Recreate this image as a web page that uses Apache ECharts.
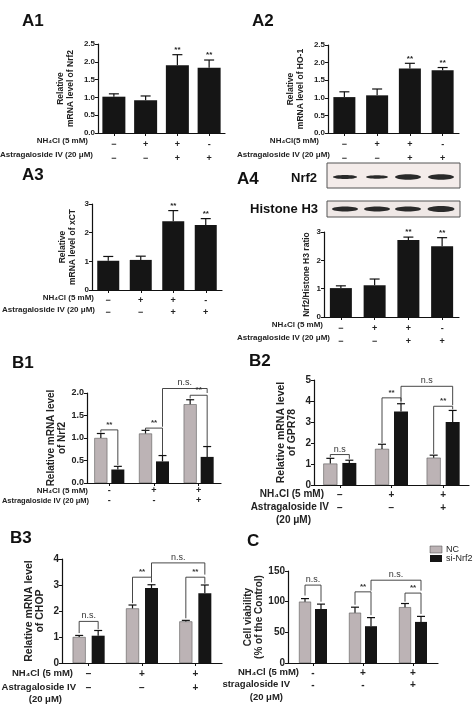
<!DOCTYPE html>
<html><head><meta charset="utf-8">
<script src="https://cdn.jsdelivr.net/npm/echarts@6/dist/echarts.min.js"></script>
<style>html,body{margin:0;background:#fff}#c{width:474px;height:705px}</style>
</head><body><div id="c"></div>
<script>
// ---- data ----
const a1Vals=[1.02,0.92,1.9,1.83], a1Err=[0.08,0.12,0.3,0.22], a1Star=['','','**','**'];
const a2Vals=[1.02,1.07,1.83,1.78], a2Err=[0.15,0.18,0.15,0.08], a2Star=['','','**','**'];
const a3Vals=[1.02,1.05,2.4,2.27], a3Err=[0.15,0.13,0.37,0.22], a3Star=['','','**','**'];
const a4Vals=[1.02,1.12,2.72,2.5], a4Err=[0.08,0.22,0.1,0.3], a4Star=['','','**','**'];
const aNh=['−','+','+','-'], aAs=['−','−','+','+'];
const b1Nc=[1.0,1.1,1.75], b1NcErr=[0.1,0.07,0.1], b1Si=[0.3,0.48,0.58], b1SiErr=[0.07,0.13,0.23];
const b2Nc=[1.02,1.72,1.3], b2NcErr=[0.25,0.22,0.12], b2Si=[1.05,3.5,3.0], b2SiErr=[0.13,0.37,0.55];
const b3Nc=[1.0,2.1,1.6], b3NcErr=[0.06,0.13,0.04], b3Si=[1.05,2.88,2.68], b3SiErr=[0.2,0.13,0.32];
const cNc=[100,82,91], cNcErr=[5,9,6], cSi=[88,60,67], cSiErr=[8,14,9];
const bNh=['-','+','+'], bAs=['-','-','+'];
const bNh2=['−','+','+'], bAs2=['−','−','+'];
// brackets: [cat1, side1, cat2, side2, top, leftLegEnd, rightLegEnd, label]
const b1Br=[[0,-1,0,1,1.18,1.12,0.4,'**'],[1,-1,1,1,1.22,1.17,0.62,'**'],[2,-1,2,1,1.95,1.88,0.82,'**'],[1,1,2,1,2.1,1.25,2.0,'n.s.']];
const b2Br=[[0,-1,0,1,1.45,1.32,1.25,'n.s'],[1,-1,1,1,4.15,2.0,3.92,'**'],[2,-1,2,1,3.75,1.48,3.6,'**'],[1,1,2,1,4.7,4.0,3.8,'n.s']];
const b3Br=[[0,-1,0,1,1.6,1.15,1.3,'n.s.'],[1,-1,1,1,3.3,2.3,3.1,'**'],[2,-1,2,1,3.3,1.72,3.05,'**'],[1,1,2,1,3.85,3.3,3.4,'n.s.']];
const cBr=[[0,-1,0,1,127,110,100,'n.s.'],[1,-1,1,1,116,95,78,'**'],[2,-1,2,1,114,100,80,'**'],[1,1,2,1,135,118,118,'n.s.']];

const GRAY='#bcb3b5', BLK='#151515', F='Liberation Sans, Arial, sans-serif';
const grids=[], xAxes=[], yAxes=[], series=[], graphics=[];

function errSeries(gi,vals,errs,stars,off,cap){
  series.push({type:'custom',xAxisIndex:gi,yAxisIndex:gi,z:5,
    data:vals.map((v,i)=>[i,v,errs[i],stars?stars[i]:'']),
    renderItem:(p,api)=>{
      const b=api.coord([api.value(0),api.value(1)]), t=api.coord([api.value(0),api.value(1)+api.value(2)]);
      const x=b[0]+off, st=api.value(3);
      const ch=[{type:'line',shape:{x1:x,y1:b[1],x2:x,y2:t[1]},style:{stroke:'#111',lineWidth:1.2}},
        {type:'line',shape:{x1:x-cap,y1:t[1],x2:x+cap,y2:t[1]},style:{stroke:'#111',lineWidth:1.2}}];
      if(st) ch.push({type:'text',style:{text:st,x:x,y:t[1]-1,align:'center',verticalAlign:'bottom',font:'bold 8px '+F,fill:'#222'}});
      return {type:'group',children:ch};
    }});
}
function brSeries(gi,br,half){
  series.push({type:'custom',xAxisIndex:gi,yAxisIndex:gi,z:6,data:br.map(b=>b.slice(0,7)),
    renderItem:(p,api)=>{
      const i=p.dataIndex, lab=br[i][7];
      const l=api.coord([api.value(0),api.value(4)]), r=api.coord([api.value(2),api.value(4)]);
      const xl=l[0]+api.value(1)*half, xr=r[0]+api.value(3)*half;
      const yl=api.coord([0,api.value(5)])[1], yr=api.coord([0,api.value(6)])[1];
      return {type:'group',children:[
        {type:'polyline',shape:{points:[[xl,yl],[xl,l[1]],[xr,l[1]],[xr,yr]]},style:{stroke:'#333',lineWidth:0.9,fill:null}},
        {type:'text',style:{text:lab,x:(xl+xr)/2,y:l[1]-1,align:'center',verticalAlign:'bottom',font:(lab==='**'?'bold 8px ':'9px ')+F,fill:'#333'}}]};
    }});
}
function panel(o){
  const gi=grids.length;
  grids.push({left:o.g[0],top:o.g[1],width:o.g[2],height:o.g[3]});
  xAxes.push({type:'category',gridIndex:gi,data:o.nh.map((_,i)=>i),
    axisLine:{lineStyle:{color:'#111',width:1.2}},axisTick:{show:true,alignWithLabel:true,length:3,lineStyle:{color:'#111'}},
    axisLabel:{margin:o.lm||5,interval:0,lineHeight:o.lh,fontSize:o.lf||9,fontWeight:'bold',fontFamily:F,color:'#222',
      formatter:(v,i)=>o.nh[i]+'\n'+o.as[i]}});
  yAxes.push({type:'value',gridIndex:gi,min:0,max:o.max,interval:o.iv,splitLine:{show:false},
    axisLine:{show:true,lineStyle:{color:'#111',width:1.2}},axisTick:{show:true,length:3,lineStyle:{color:'#111'}},
    axisLabel:{fontSize:o.yf||8,fontWeight:'bold',fontFamily:F,color:'#222',margin:3,
      formatter:v=>o.dec?v.toFixed(o.dec):String(v)},
    name:o.name,nameLocation:'middle',nameGap:o.ng,nameTextStyle:{fontSize:o.nf||8.5,fontFamily:F,fontWeight:'bold',color:'#222',lineHeight:o.nf?o.nf+1:10}});
  if(o.vals){
    series.push({type:'bar',xAxisIndex:gi,yAxisIndex:gi,data:o.vals,barWidth:o.bw,itemStyle:{color:BLK}});
    errSeries(gi,o.vals,o.err,o.star,0,5);
  } else {
    const half=o.bw/2+o.gap/2;
    series.push({type:'bar',xAxisIndex:gi,yAxisIndex:gi,data:o.nc,barWidth:o.bw,barGap:(o.gap/o.bw*100)+'%',itemStyle:{color:GRAY,borderColor:'#444',borderWidth:0.5}});
    series.push({type:'bar',xAxisIndex:gi,yAxisIndex:gi,data:o.si,barWidth:o.bw,itemStyle:{color:BLK}});
    errSeries(gi,o.nc,o.ncErr,null,-half,4);
    errSeries(gi,o.si,o.siErr,null,half,4);
    brSeries(gi,o.br,half);
  }
  o.rows.forEach(r=>graphics.push({type:'text',x:r[0],y:r[1],style:{text:r[2],align:'right',verticalAlign:'middle',font:'bold '+(r[3]||8)+'px '+F,fill:'#222'}}));
}
function lbl(t,x,y,s){graphics.push({type:'text',x:x,y:y,style:{text:t,font:'bold '+(s||17)+'px '+F,fill:'#111'}});}

panel({g:[98,44,127,89],nh:aNh,as:aAs,vals:a1Vals,err:a1Err,star:a1Star,bw:23,max:2.5,iv:0.5,dec:1,lh:14,
  name:'Relative\nmRNA level of Nrf2',ng:22,rows:[[88,141,'NH₄Cl (5 mM)'],[93,155,'Astragaloside IV (20 μM)']]});
panel({g:[328,45,131,88],nh:aNh,as:aAs,vals:a2Vals,err:a2Err,star:a2Star,bw:22,max:2.5,iv:0.5,dec:1,lh:14,
  name:'Relative\nmRNA level of HO-1',ng:22,rows:[[319,141,'NH₄Cl(5 mM)'],[330,155,'Astragaloside IV (20 μM)']]});
panel({g:[92,204,130,86],nh:aNh,as:aAs,vals:a3Vals,err:a3Err,star:a3Star,bw:22,max:3,iv:1,lh:12,
  name:'Relative\nmRNA level of xCT',ng:14,rows:[[94,298,'NH₄Cl (5 mM)'],[95,310,'Astragaloside IV (20 μM)']]});
panel({g:[324,232,135,85],nh:aNh,as:aAs,vals:a4Vals,err:a4Err,star:a4Star,bw:22,max:3,iv:1,lh:13,
  name:'Nrf2/Histone H3 ratio',ng:12,rows:[[323,325,'NH₄Cl (5 mM)'],[330,338,'Astragaloside IV (20 μM)']]});
panel({g:[87,393,134,90],nh:bNh,as:bAs,nc:b1Nc,ncErr:b1NcErr,si:b1Si,siErr:b1SiErr,br:b1Br,bw:13,gap:4,max:2,iv:0.5,dec:1,lh:10,lm:3,yf:9,
  name:'Relative mRNA level\nof Nrf2',ng:19,nf:10,rows:[[88,491,'NH₄Cl (5 mM)',8],[89,501,'Astragaloside IV (20 μM)',7.5]]});
panel({g:[314,380,155,105],nh:bNh2,as:bAs2,nc:b2Nc,ncErr:b2NcErr,si:b2Si,siErr:b2SiErr,br:b2Br,bw:14,gap:5,max:5,iv:1,lh:13,lm:4,lf:10,yf:10,
  name:'Relative mRNA level\nof GPR78',ng:16,nf:10.5,rows:[[324,494,'NH₄Cl (5 mM)',10],[329,507,'Astragaloside IV',10],[311,520,'(20 μM)',10]]});
panel({g:[62,559,160,104],nh:bNh2,as:bAs2,nc:b3Nc,ncErr:b3NcErr,si:b3Si,siErr:b3SiErr,br:b3Br,bw:13,gap:6,max:4,iv:1,lh:14,lm:4,lf:10,yf:10,
  name:'Relative mRNA level\nof CHOP',ng:16,nf:10.5,rows:[[73,673,'NH₄Cl (5 mM)',9.5],[76,687,'Astragaloside IV',9.5],[62,699,'(20 μM)',9.5]]});
panel({g:[288,571,150,92],nh:bNh,as:bAs,nc:cNc,ncErr:cNcErr,si:cSi,siErr:cSiErr,br:cBr,bw:12,gap:4,max:150,iv:50,lh:12,lm:4,lf:10,yf:10,
  name:'Cell viability\n(% of the Control)',ng:21,nf:10,rows:[[299,672,'NH₄Cl (5 mM)',9.5],[290,684,'stragaloside IV',9.5],[283,697,'(20 μM)',9.5]]});

lbl('A1',22,13);lbl('A2',252,13);lbl('A3',22,167);lbl('A4',237,171);
lbl('B1',12,355);lbl('B2',249,353);lbl('B3',10,530);lbl('C',247,533);
// legend
graphics.push({type:'rect',shape:{x:430,y:546,width:12,height:7},style:{fill:GRAY,stroke:'#444',lineWidth:0.5}});
graphics.push({type:'rect',shape:{x:430,y:555,width:12,height:7},style:{fill:BLK}});
graphics.push({type:'text',x:446,y:550,style:{text:'NC',font:'9px '+F,fill:'#222',verticalAlign:'middle'}});
graphics.push({type:'text',x:446,y:559,style:{text:'si-Nrf2',font:'9px '+F,fill:'#222',verticalAlign:'middle'}});
// western blot decoration
const lanes=[345,377,408,441], nrfBand=[[24,4],[22,3.5],[26,5.5],[26,5.5]], h3Band=[[26,5],[26,5],[26,5],[27,6]];
graphics.push({type:'text',x:304,y:178,style:{text:'Nrf2',font:'bold 13px '+F,fill:'#111',align:'center',verticalAlign:'middle'}});
graphics.push({type:'text',x:318,y:209,style:{text:'Histone H3',font:'bold 13px '+F,fill:'#111',align:'right',verticalAlign:'middle'}});
graphics.push({type:'rect',shape:{x:327,y:163,width:133,height:25},style:{fill:'#f4ecea',stroke:'#555',lineWidth:1}});
graphics.push({type:'rect',shape:{x:327,y:201,width:133,height:16},style:{fill:'#efe8e6',stroke:'#555',lineWidth:1}});
lanes.forEach((x,i)=>{
  graphics.push({type:'ellipse',shape:{cx:x,cy:177,rx:nrfBand[i][0]/2,ry:nrfBand[i][1]/2},style:{fill:'#2a2a2a'}});
  graphics.push({type:'ellipse',shape:{cx:x,cy:209,rx:h3Band[i][0]/2,ry:h3Band[i][1]/2},style:{fill:'#2a2a2a'}});
});

const chart=echarts.init(document.getElementById('c'));
chart.setOption({animation:false,grid:grids,xAxis:xAxes,yAxis:yAxes,series:series,graphic:graphics});
</script></body></html>
